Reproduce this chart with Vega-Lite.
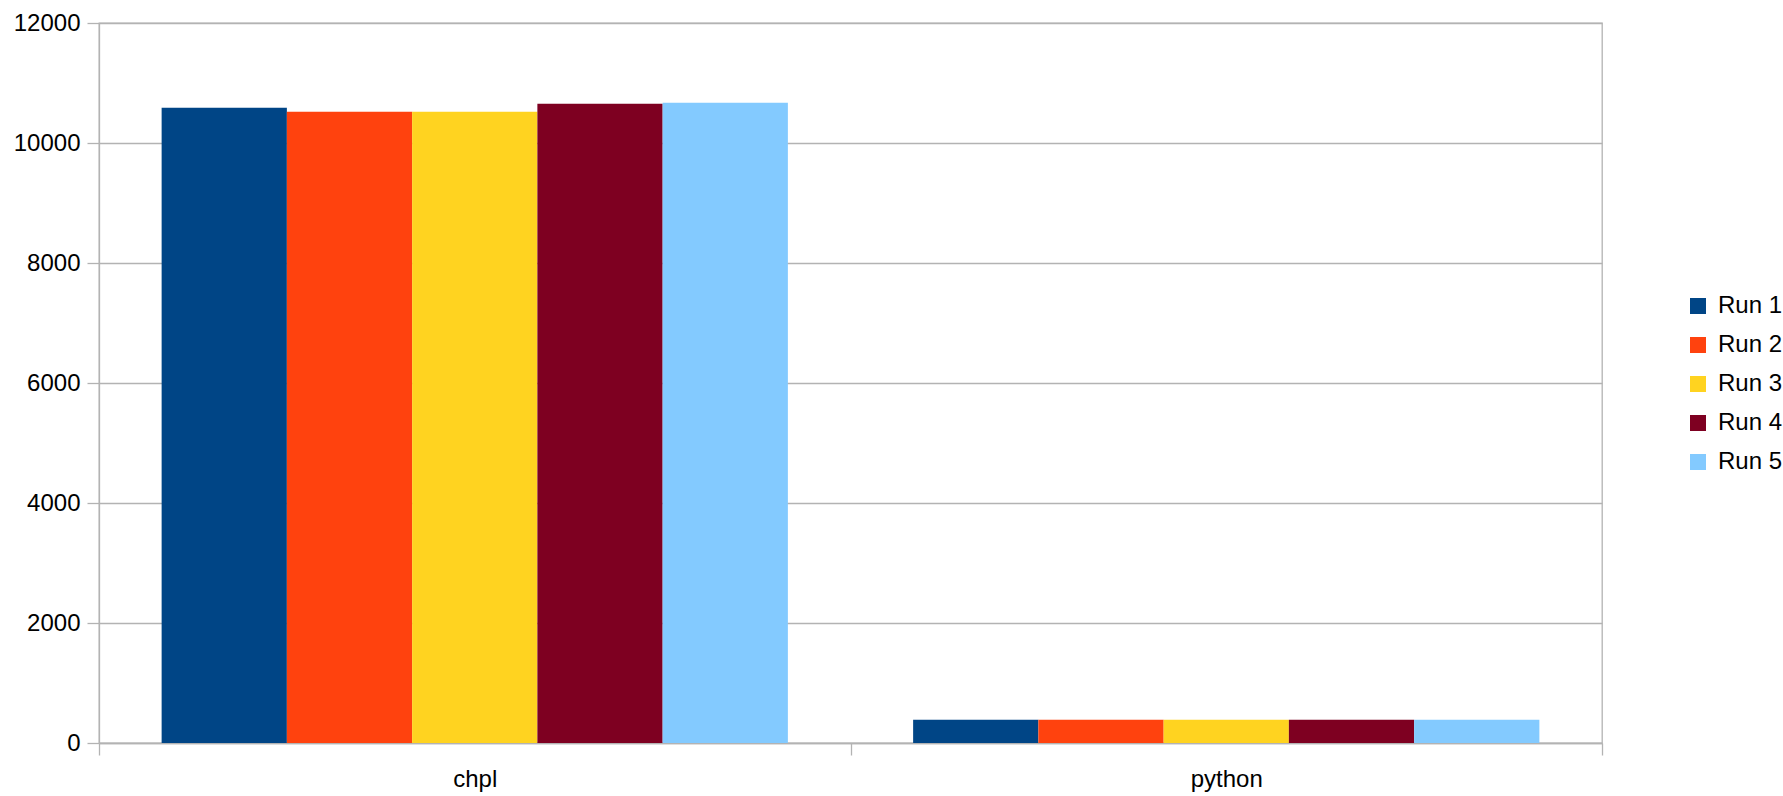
{
  "$schema": "https://vega.github.io/schema/vega-lite/v6.json",
  "width": 1503,
  "height": 720,
  "autosize": {"type": "none"},
  "padding": {"left": 99, "top": 23, "right": 181, "bottom": 53},
  "background": "white",
  "config": {
    "font": "Liberation Sans",
    "view": {"stroke": "#b3b3b3", "strokeWidth": 1.3},
    "axis": {
      "labelFont": "Liberation Sans",
      "labelFontSize": 24,
      "labelColor": "#000000",
      "domainColor": "#b3b3b3",
      "domainWidth": 1.3,
      "tickColor": "#b3b3b3",
      "tickWidth": 1.3,
      "gridColor": "#b3b3b3",
      "gridWidth": 1.3,
      "title": null
    },
    "legend": {
      "labelFont": "Liberation Sans",
      "labelFontSize": 24,
      "labelColor": "#000000"
    }
  },
  "data": {
    "values": [
      {"program": "chpl", "run": "Run 1", "value": 10587},
      {"program": "chpl", "run": "Run 2", "value": 10520},
      {"program": "chpl", "run": "Run 3", "value": 10520},
      {"program": "chpl", "run": "Run 4", "value": 10654},
      {"program": "chpl", "run": "Run 5", "value": 10671},
      {"program": "python", "run": "Run 1", "value": 389},
      {"program": "python", "run": "Run 2", "value": 389},
      {"program": "python", "run": "Run 3", "value": 389},
      {"program": "python", "run": "Run 4", "value": 389},
      {"program": "python", "run": "Run 5", "value": 389}
    ]
  },
  "mark": {"type": "bar"},
  "encoding": {
    "x": {
      "field": "program",
      "type": "nominal",
      "scale": {"paddingInner": 0, "paddingOuter": 0},
      "axis": {
        "labelAngle": 0,
        "tickBand": "extent",
        "tickSize": 12,
        "labelPadding": 12,
        "grid": false,
        "domain": true
      }
    },
    "xOffset": {
      "field": "run",
      "type": "nominal",
      "scale": {"paddingInner": 0, "paddingOuter": 0.5}
    },
    "y": {
      "field": "value",
      "type": "quantitative",
      "scale": {"domain": [0, 12000], "nice": false},
      "axis": {
        "values": [0, 2000, 4000, 6000, 8000, 10000, 12000],
        "grid": true,
        "tickSize": 12,
        "labelPadding": 7,
        "domain": true,
        "format": "d"
      }
    },
    "color": {
      "field": "run",
      "type": "nominal",
      "scale": {
        "domain": ["Run 1", "Run 2", "Run 3", "Run 4", "Run 5"],
        "range": ["#004586", "#ff420e", "#ffd320", "#7e0021", "#83caff"]
      },
      "legend": {
        "title": null,
        "orient": "none",
        "legendX": 1587,
        "legendY": 271,
        "symbolType": "square",
        "symbolSize": 256,
        "symbolStrokeWidth": 0,
        "labelOffset": 8,
        "rowPadding": 15,
        "padding": 0
      }
    }
  }
}
